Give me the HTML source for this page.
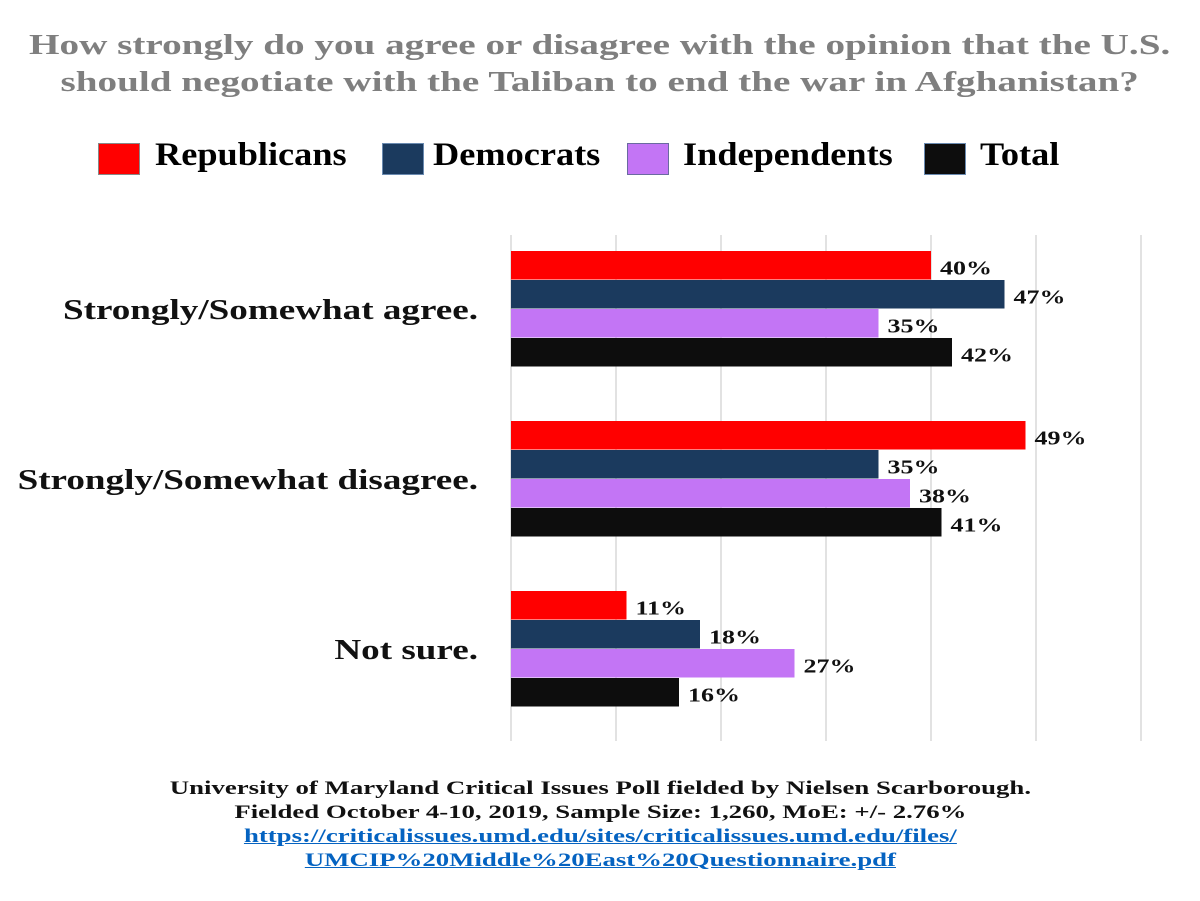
<!DOCTYPE html>
<html><head><meta charset="utf-8"><style>
body{margin:0;width:1200px;height:901px;background:#fff;font-family:"Liberation Serif",serif;font-weight:bold;overflow:hidden;position:relative}
.t{position:absolute;white-space:nowrap}
.sx{display:inline-block;transform-origin:center}
.lg{display:inline-block;transform-origin:left center;transform:scaleX(1.1)}
</style></head><body>
<div class="t" style="left:0;width:1200px;top:27px;text-align:center;color:#7f7f7f;font-size:29px;line-height:37px"><span class="sx" style="transform:scaleX(1.35)">How strongly do you agree or disagree with the opinion that the U.S.<br>should negotiate with the Taliban to end the war in Afghanistan?</span></div>
<div>
<div class="t" style="left:98px;top:143px;width:40px;height:30px;background:#ff0000;border:1px solid #888"></div>
<div class="t" style="left:155px;top:137px;font-size:33px"><span class="lg">Republicans</span></div>
<div class="t" style="left:382px;top:143px;width:40px;height:30px;background:#1b3a5e;border:1px solid #6a8ab0"></div>
<div class="t" style="left:433px;top:137px;font-size:33px"><span class="lg">Democrats</span></div>
<div class="t" style="left:627px;top:143px;width:40px;height:30px;background:#c375f5;border:1px solid #6a6aa0"></div>
<div class="t" style="left:683px;top:137px;font-size:33px"><span class="lg">Independents</span></div>
<div class="t" style="left:924px;top:143px;width:40px;height:30px;background:#0d0d0d;border:1px solid #6a8ab0"></div>
<div class="t" style="left:980px;top:137px;font-size:33px"><span class="lg">Total</span></div>
</div>
<svg id="chart" width="1200" height="901" style="position:absolute;left:0;top:0"></svg>
<div class="t" style="left:0;width:1200px;top:777px;text-align:center;font-size:19px;line-height:24px;color:#111"><span class="sx" style="transform:scaleX(1.41)">University of Maryland Critical Issues Poll fielded by Nielsen Scarborough.<br>Fielded October 4-10, 2019, Sample Size: 1,260, MoE: +/- 2.76%<br><span style="color:#0563c1;text-decoration:underline">https://criticalissues.umd.edu/sites/criticalissues.umd.edu/files/<br>UMCIP%20Middle%20East%20Questionnaire.pdf</span></span></div>
<script>
const categories=["Strongly/Somewhat agree.","Strongly/Somewhat disagree.","Not sure."];
const seriesNames=["Republicans","Democrats","Independents","Total"];
const republicans=[40,49,11];
const democrats=[47,35,18];
const independents=[35,38,27];
const total=[42,41,16];
const gridTicks=[0,10,20,30,40,50,60];
const colors=["#ff0000","#1b3a5e","#c375f5","#0d0d0d"];
const series=[republicans,democrats,independents,total];
const NS="http://www.w3.org/2000/svg";
const svg=document.getElementById('chart');
const x=v=>511+v*10.5;
const groupTop=i=>251+i*170;
const barH=29;
function mk(t,a){const e=document.createElementNS(NS,t);for(const k in a)e.setAttribute(k,a[k]);svg.appendChild(e);return e;}
gridTicks.forEach(t=>{
const l=mk('line',{x1:x(t),x2:x(t),y1:235,y2:741,stroke:'#d9d9d9','stroke-width':1.5});


});
categories.forEach((c,i)=>{
const tx=mk('text',{x:478,y:groupTop(i)+barH*2+10,'text-anchor':'end','font-size':29,'font-weight':'bold','font-family':'Liberation Serif, serif',fill:'#111',transform:'translate(478,0) scale(1.28,1) translate(-478,0)'});
tx.textContent=c;


series.forEach((s,j)=>{
const y=groupTop(i)+j*barH;
const r=mk('rect',{x:x(0),y:y,width:x(s[i])-x(0),height:barH-0.5,fill:colors[j]});


const ax=x(s[i])+9;
const v=mk('text',{x:ax,y:y+barH/2+9,'font-size':20,'font-weight':'bold','font-family':'Liberation Serif, serif',fill:'#111',transform:`translate(${ax},0) scale(1.3,1) translate(${-ax},0)`});
v.textContent=s[i]+'%';


});
});
</script>
</body></html>
